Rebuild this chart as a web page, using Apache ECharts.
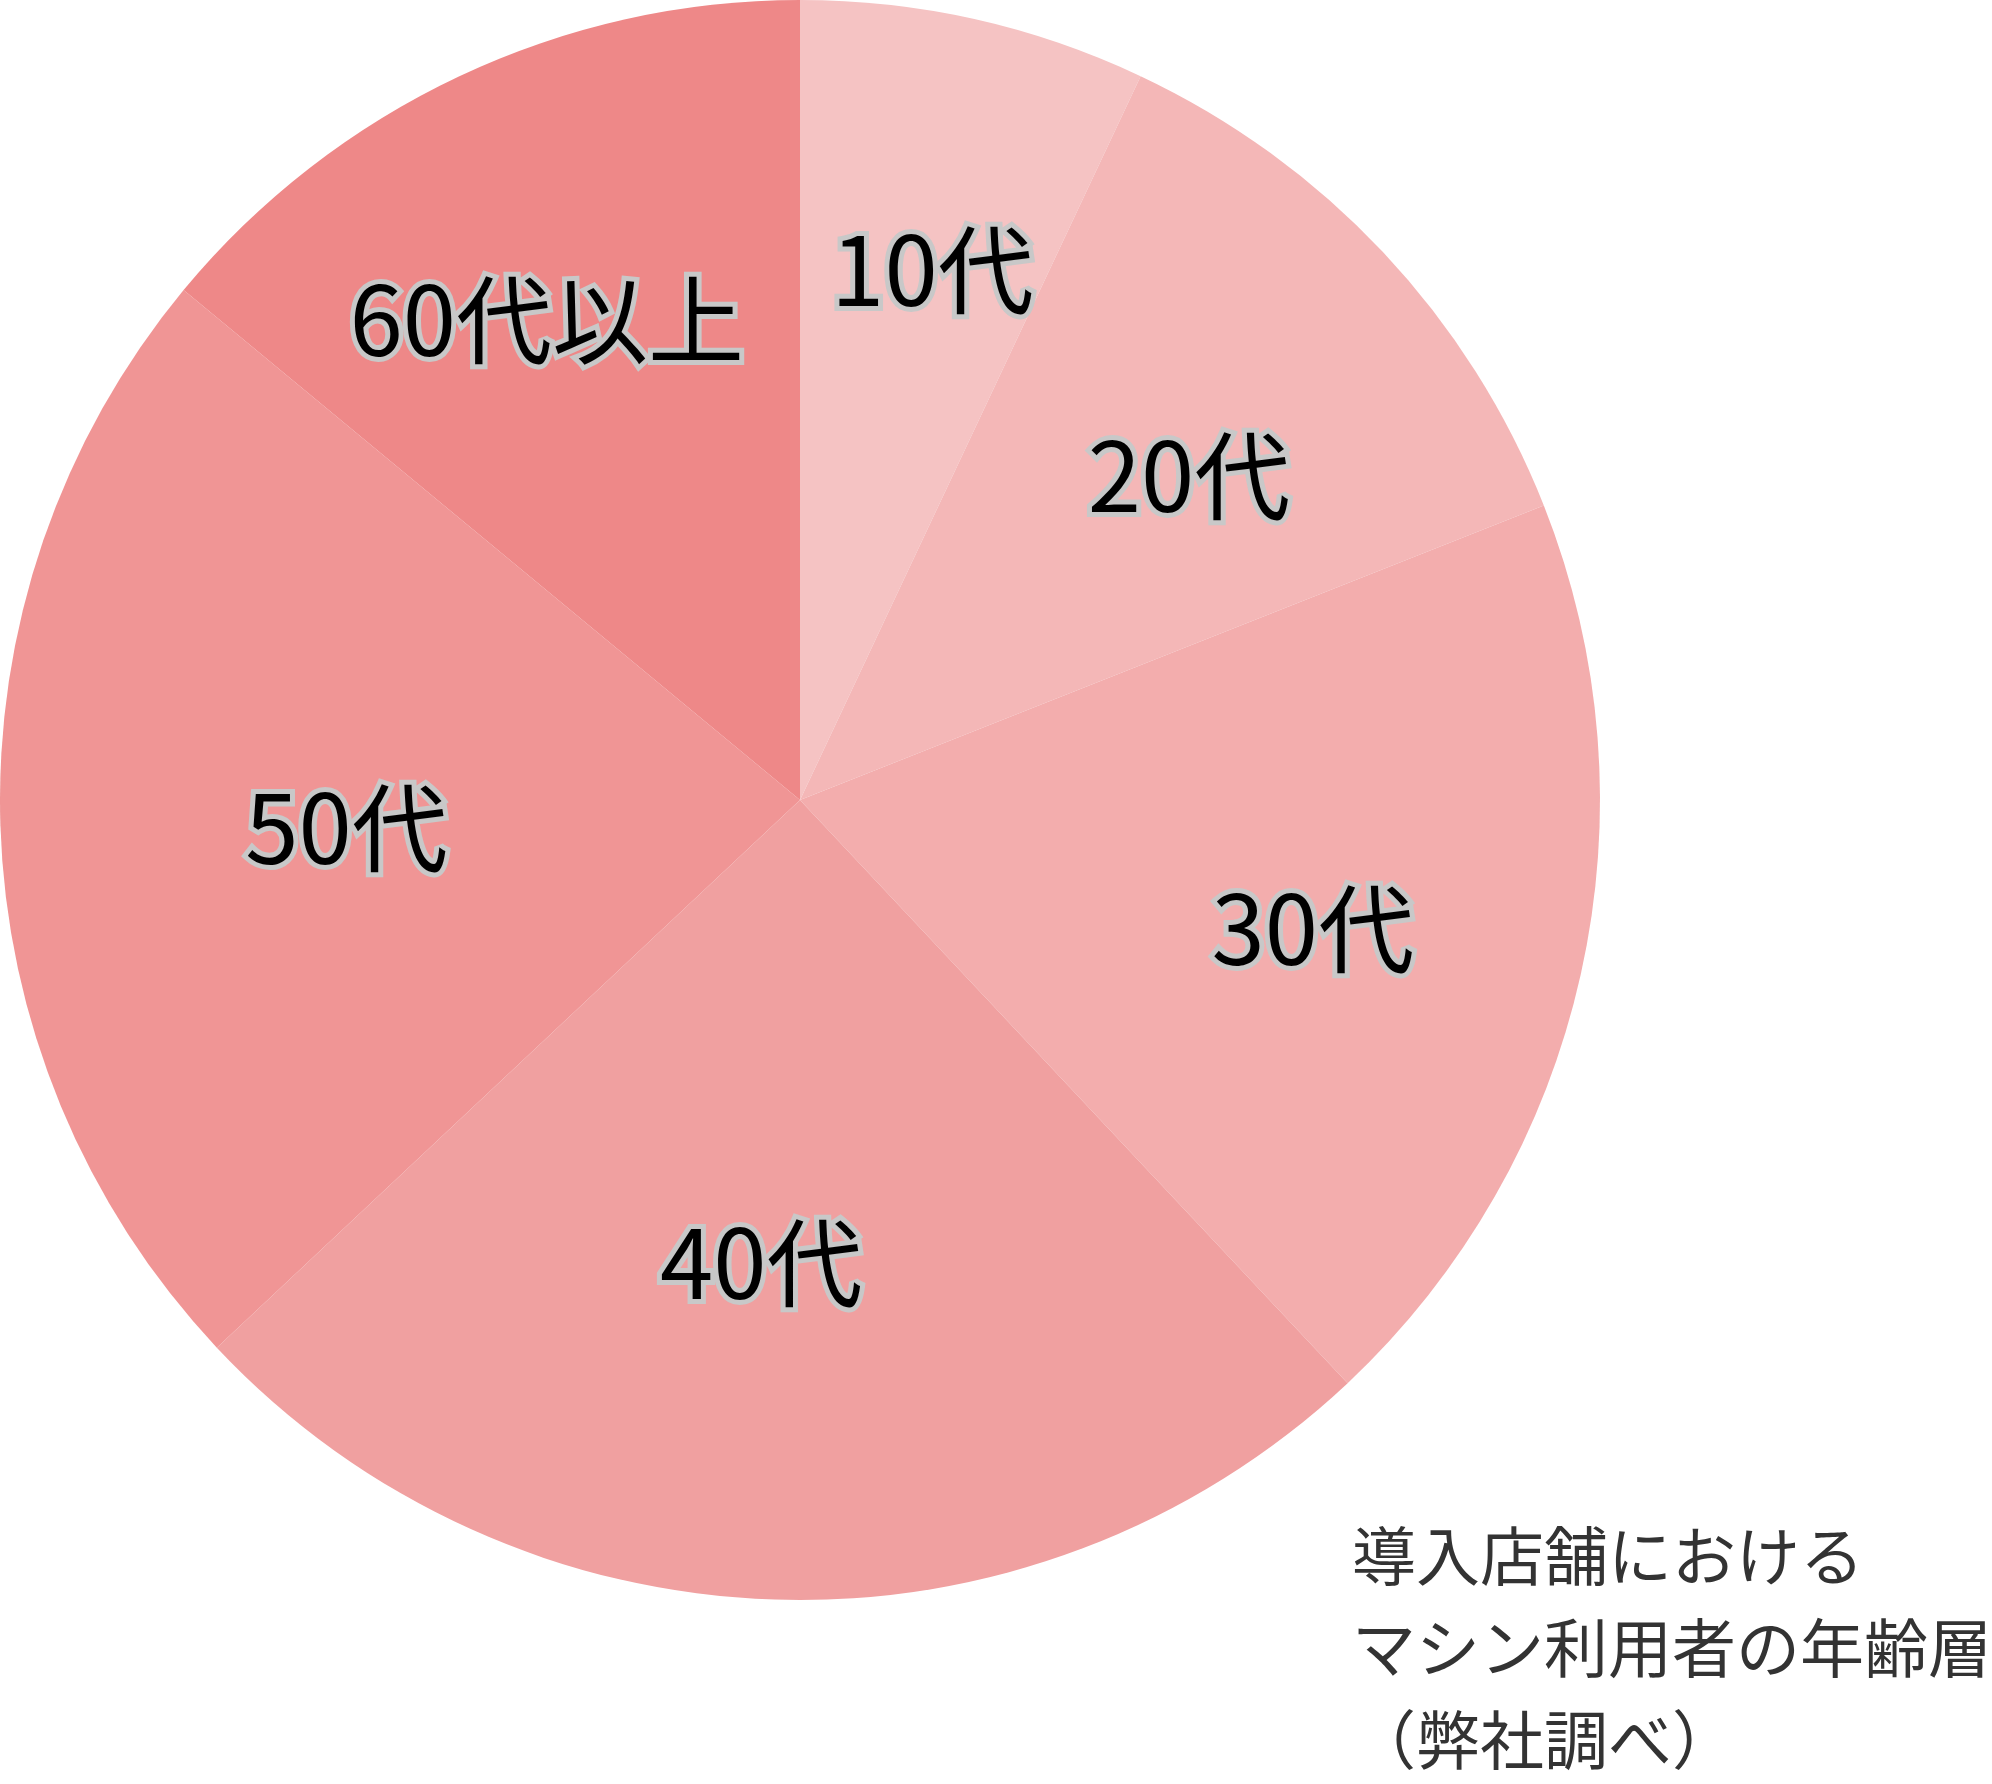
<!DOCTYPE html>
<html lang="ja">
<head>
<meta charset="utf-8">
<title>マシン利用者の年齢層</title>
<script src="https://cdn.jsdelivr.net/npm/echarts@6/dist/echarts.min.js"></script>
<style>
    html, body { margin: 0; padding: 0; background: #fff; }
    #main { width: 1992px; height: 1784px; }
</style>
</head>
<body>
<div id="main"></div>
<script>
// data (percent)
var ageGroups = ['10代', '20代', '30代', '40代', '50代', '60代以上'];
var shares = [7, 12, 19, 25, 23, 14];
var sliceColors = ['#f5c3c3', '#f4b7b7', '#f3adad', '#f0a0a0', '#f09595', '#ee8888'];
var noteLines = ['導入店舗における', 'マシン利用者の年齢層', '（弊社調べ）'];

// where each label sits: fraction of radius, and nudge from the slice middle (degrees)
var labelRadius = [0.684, 0.633, 0.661, 0.58, 0.568, 0.679];
var labelTurn = [1.4, 3.4, 1.5, 3.0, -1.7, -2.6];

var cx = 800, cy = 800, r = 800;

var chartDom = document.getElementById('main');
var myChart = echarts.init(chartDom);

var total = shares.reduce(function (a, b) { return a + b; }, 0);

function labelPoint(index) {
    var before = 0;
    for (var i = 0; i < index; i++) {
        before += shares[i];
    }
    var mid = (before + shares[index] / 2) / total * 360 + labelTurn[index];
    var rad = mid * Math.PI / 180;
    var d = r * labelRadius[index];
    return [cx + d * Math.sin(rad), cy - d * Math.cos(rad)];
}

var data = ageGroups.map(function (name, i) {
    return { name: name, value: shares[i], itemStyle: { color: sliceColors[i] } };
});

var option = {
    animation: false,
    series: [
        {
            name: '年齢層',
            type: 'pie',
            center: [cx, cy],
            radius: [0, r],
            startAngle: 90,
            clockwise: true,
            silent: true,
            itemStyle: { borderWidth: 0 },
            label: {
                show: true,
                position: 'inside',
                formatter: '{b}',
                fontFamily: 'Noto Sans CJK JP',
                fontSize: 96,
                color: '#000',
                textBorderColor: '#c8c8c8',
                textBorderWidth: 10
            },
            labelLine: { show: false },
            labelLayout: function (params) {
                var p = labelPoint(params.dataIndex);
                return { x: p[0], y: p[1], align: 'center', verticalAlign: 'middle' };
            },
            data: data
        }
    ],
    graphic: [
        {
            type: 'text',
            left: 1352,
            top: 1510,
            style: {
                text: noteLines.join('\n'),
                fontFamily: 'Noto Sans CJK JP',
                fontSize: 64,
                lineHeight: 92,
                fill: '#333'
            }
        }
    ]
};

myChart.setOption(option);
</script>
</body>
</html>
